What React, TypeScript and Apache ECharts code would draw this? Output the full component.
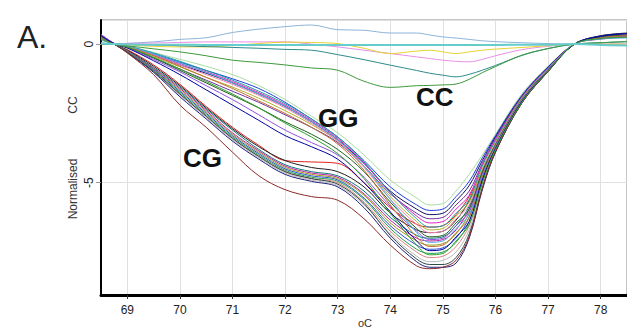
import React, { useEffect, useRef } from "react";
import * as echarts from "echarts";

// temperature (oC) sample points
const TEMPS = [68.5, 68.75, 69, 69.5, 70, 70.5, 71, 71.5, 72, 72.5, 73, 73.5, 74, 74.5, 74.75, 75, 75.25, 75.5, 75.75, 76, 76.5, 77, 77.5, 78, 78.5];

// GG genotype curves
const GG1 = [0.2, 0.0, -0.06, -0.3, -0.55, -0.8, -1.1, -1.5, -2.0, -2.6, -3.2, -4.0, -4.9, -5.55, -5.8, -5.75, -5.3, -4.7, -4.0, -3.25, -1.8, -0.8, 0.0, 0.2, 0.3];
const GG2 = [0.3, 0.02, -0.08, -0.35, -0.65, -0.95, -1.25, -1.6, -2.1, -2.7, -3.35, -4.2, -5.15, -5.8, -6.0, -5.95, -5.5, -4.95, -4.1, -3.3, -1.85, -0.82, 0.0, 0.22, 0.32];
const GG3 = [0.25, 0.0, -0.1, -0.4, -0.75, -1.05, -1.4, -1.8, -2.25, -2.8, -3.45, -4.3, -5.3, -5.95, -6.15, -6.1, -5.65, -5.1, -4.2, -3.35, -1.88, -0.85, 0.0, 0.25, 0.35];
const GG4 = [0.35, 0.03, -0.12, -0.5, -0.9, -1.3, -1.7, -2.1, -2.55, -3.0, -3.55, -4.4, -5.4, -6.1, -6.3, -6.25, -5.8, -5.3, -4.3, -3.4, -1.9, -0.86, 0.0, 0.2, 0.28];
const GG5 = [0.2, 0.0, -0.08, -0.38, -0.7, -1.0, -1.35, -1.75, -2.2, -2.75, -3.4, -4.3, -5.35, -6.2, -6.45, -6.4, -5.95, -5.45, -4.35, -3.45, -1.92, -0.87, 0.0, 0.18, 0.25];
const GG6 = [0.15, 0.0, -0.07, -0.32, -0.62, -0.95, -1.3, -1.7, -2.15, -2.7, -3.35, -4.25, -5.35, -6.3, -6.6, -6.55, -6.1, -5.6, -4.4, -3.5, -1.94, -0.88, 0.0, 0.25, 0.3];
const GG7 = [0.28, 0.02, -0.1, -0.45, -0.82, -1.2, -1.55, -1.95, -2.4, -2.9, -3.5, -4.4, -5.5, -6.4, -6.7, -6.65, -6.2, -5.7, -4.5, -3.55, -1.96, -0.9, 0.0, 0.2, 0.3];
const GG8 = [0.2, 0.0, -0.09, -0.4, -0.75, -1.1, -1.45, -1.85, -2.3, -2.85, -3.5, -4.45, -5.6, -6.5, -6.8, -6.75, -6.3, -5.8, -4.55, -3.6, -1.98, -0.9, 0.0, 0.22, 0.35];
const GG9 = [0.3, 0.02, -0.12, -0.5, -0.95, -1.4, -1.85, -2.3, -2.8, -3.25, -3.8, -4.6, -5.7, -6.65, -6.95, -6.9, -6.45, -5.95, -4.6, -3.62, -2.0, -0.92, 0.0, 0.25, 0.33];
const GG10 = [0.35, 0.03, -0.13, -0.55, -1.0, -1.5, -2.0, -2.55, -3.1, -3.55, -4.0, -4.8, -5.85, -6.75, -7.05, -7.0, -6.55, -6.05, -4.7, -3.66, -2.02, -0.93, 0.0, 0.2, 0.3];
const GG11 = [0.22, 0.0, -0.08, -0.36, -0.68, -1.02, -1.4, -1.8, -2.25, -2.8, -3.45, -4.4, -5.6, -6.8, -7.15, -7.1, -6.65, -6.15, -4.75, -3.7, -2.04, -0.94, 0.0, 0.18, 0.22];
const GG12 = [0.25, 0.01, -0.1, -0.42, -0.8, -1.2, -1.6, -2.05, -2.5, -3.0, -3.6, -4.55, -5.8, -6.95, -7.3, -7.25, -6.8, -6.25, -4.8, -3.72, -2.05, -0.95, 0.0, 0.23, 0.3];
const GG13 = [0.3, 0.02, -0.14, -0.6, -1.1, -1.65, -2.2, -2.75, -3.3, -3.7, -4.15, -5.0, -6.05, -7.1, -7.45, -7.4, -6.95, -6.4, -4.9, -3.76, -2.07, -0.96, 0.0, 0.28, 0.38];
const GG14 = [0.2, 0.0, -0.11, -0.48, -0.9, -1.35, -1.8, -2.3, -2.85, -3.35, -3.95, -4.85, -6.1, -7.25, -7.6, -7.55, -7.1, -6.5, -5.0, -3.8, -2.1, -0.97, 0.0, 0.2, 0.25];

// CG genotype curves
const CG1 = [0.25, 0.0, -0.2, -0.75, -1.45, -2.25, -3.0, -3.65, -4.2, -4.25, -4.3, -5.0, -5.9, -6.5, -6.6, -6.55, -6.15, -5.5, -4.55, -3.62, -2.0, -0.92, 0.0, 0.22, 0.3];
const CG2 = [0.3, 0.0, -0.22, -0.8, -1.5, -2.3, -3.05, -3.7, -4.2, -4.45, -4.6, -5.15, -6.1, -6.7, -6.8, -6.75, -6.35, -5.65, -4.65, -3.66, -2.02, -0.93, 0.0, 0.3, 0.4];
const CG3 = [0.22, 0.0, -0.24, -0.85, -1.55, -2.35, -3.1, -3.8, -4.35, -4.6, -4.75, -5.3, -6.25, -6.9, -7.0, -6.95, -6.55, -5.85, -4.72, -3.7, -2.04, -0.94, 0.0, 0.2, 0.3];
const CG4 = [0.28, 0.0, -0.25, -0.88, -1.6, -2.4, -3.2, -3.85, -4.4, -4.65, -4.8, -5.4, -6.35, -7.0, -7.1, -7.05, -6.7, -5.95, -4.78, -3.72, -2.05, -0.95, 0.0, 0.24, 0.33];
const CG5 = [0.2, 0.0, -0.26, -0.9, -1.65, -2.45, -3.25, -3.9, -4.45, -4.7, -4.85, -5.45, -6.45, -7.1, -7.25, -7.2, -6.85, -6.1, -4.85, -3.75, -2.06, -0.95, 0.0, 0.2, 0.28];
const CG6 = [0.3, 0.0, -0.27, -0.92, -1.7, -2.5, -3.3, -3.95, -4.5, -4.75, -4.9, -5.55, -6.55, -7.25, -7.4, -7.35, -7.0, -6.25, -4.92, -3.78, -2.07, -0.96, 0.0, 0.26, 0.35];
const CG7 = [0.25, 0.0, -0.28, -0.95, -1.75, -2.55, -3.35, -4.0, -4.55, -4.8, -4.95, -5.6, -6.65, -7.4, -7.55, -7.5, -7.15, -6.4, -4.98, -3.8, -2.08, -0.97, 0.0, 0.22, 0.3];
const CG8 = [0.2, 0.0, -0.28, -0.97, -1.8, -2.6, -3.4, -4.05, -4.6, -4.85, -5.0, -5.7, -6.75, -7.5, -7.7, -7.65, -7.3, -6.55, -5.05, -3.82, -2.1, -0.97, 0.0, 0.2, 0.25];
const CG9 = [0.3, 0.0, -0.3, -1.0, -1.85, -2.65, -3.45, -4.1, -4.65, -4.9, -5.1, -5.8, -6.85, -7.65, -7.85, -7.8, -7.5, -6.7, -5.1, -3.85, -2.11, -0.98, 0.0, 0.25, 0.3];
const CG10 = [0.25, 0.0, -0.3, -1.02, -1.9, -2.7, -3.5, -4.15, -4.7, -4.95, -5.15, -5.9, -7.0, -7.85, -8.05, -8.05, -7.9, -7.0, -5.25, -3.9, -2.13, -0.99, 0.0, 0.3, 0.38];
const CG11 = [0.2, 0.0, -0.29, -0.98, -1.8, -2.6, -3.4, -4.05, -4.6, -4.85, -5.05, -5.75, -6.9, -7.75, -7.95, -7.95, -7.7, -6.85, -5.2, -3.88, -2.12, -0.98, 0.0, 0.22, 0.28];
const CG12 = [0.2, 0.0, -0.32, -1.1, -2.2, -3.0, -3.9, -4.75, -5.25, -5.5, -5.63, -6.3, -7.25, -8.0, -8.1, -8.05, -7.8, -6.95, -5.2, -3.88, -2.12, -0.99, 0.0, 0.2, 0.28];

// CC genotype curves
const CC1 = [0.05, 0.0, 0.03, 0.08, 0.17, 0.23, 0.42, 0.54, 0.63, 0.69, 0.52, 0.5, 0.4, 0.4, 0.33, 0.26, 0.22, 0.17, 0.12, 0.09, 0.05, 0.02, 0.0, 0.0, 0.0];
const CC2 = [0.02, 0.0, -0.01, -0.02, -0.02, -0.03, -0.03, -0.03, -0.03, -0.03, -0.03, -0.03, -0.03, -0.03, -0.03, -0.03, -0.03, -0.03, -0.03, -0.03, -0.02, -0.02, 0.0, -0.03, -0.05];
const CC3 = [0.02, 0.0, 0.02, 0.04, 0.06, 0.08, 0.08, 0.08, 0.08, 0.0, -0.1, -0.22, -0.34, -0.46, -0.52, -0.58, -0.62, -0.64, -0.55, -0.42, -0.2, -0.08, 0.0, 0.0, 0.0];
const CC4 = [0.02, 0.0, -0.03, -0.08, -0.1, -0.1, -0.05, 0.02, 0.07, 0.06, 0.02, -0.15, -0.34, -0.25, -0.22, -0.28, -0.34, -0.28, -0.22, -0.18, -0.12, -0.06, 0.0, 0.0, 0.0];
const CC5 = [0.0, 0.0, -0.01, -0.03, -0.06, -0.09, -0.12, -0.15, -0.19, -0.22, -0.38, -0.56, -0.76, -0.95, -1.05, -1.12, -1.18, -1.09, -0.94, -0.77, -0.41, -0.16, 0.0, 0.05, 0.08];
const CC6 = [0.0, 0.0, -0.06, -0.17, -0.28, -0.42, -0.58, -0.66, -0.75, -0.86, -0.94, -1.34, -1.56, -1.5, -1.49, -1.47, -1.44, -1.27, -1.03, -0.81, -0.4, -0.16, 0.0, 0.05, 0.1];

const CG_CURVES = [CG1, CG2, CG3, CG4, CG5, CG6, CG7, CG8, CG9, CG10, CG11, CG12];
const CG_COLORS = ["#e02020", "#202020", "#107878", "#c020a0", "#9a9a20", "#3050d0", "#20a050", "#e08080", "#b8b8b8", "#202080", "#304848", "#8b2a2a"];
const GG_CURVES = [GG1, GG2, GG3, GG4, GG5, GG6, GG7, GG8, GG9, GG10, GG11, GG12, GG13, GG14];
const GG_COLORS = ["#a8dca0", "#2040e0", "#101060", "#7030a0", "#e020c0", "#20a0a0", "#b0b030", "#f080b0", "#206020", "#9050e0", "#50b0e0", "#c07030", "#0000a0", "#30a030"];
const CC_CURVES = [CC1, CC3, CC4, CC5, CC6, CC2];
const CC_COLORS = ["#8cb4d8", "#e890e8", "#e6d230", "#2e8b8b", "#3c9a3c", "#66cccc"];

const X_TICK_LABELS = ["69", "70", "71", "72", "73", "74", "75", "76", "77", "78"];
const Y_TICK_LABELS = ["-5", "0"];

const FONT = "Liberation Sans, Arial, sans-serif";

function line(values: number[], color: string, width = 1) {
  return {
    type: "line",
    data: values.map((v, i) => [TEMPS[i], v]),
    symbol: "none",
    smooth: 0.35,
    lineStyle: { color, width },
    silent: true,
  };
}

export default function App() {
  const ref = useRef<HTMLDivElement>(null);
  useEffect(() => {
    document.body.style.margin = "0";
    const chart = echarts.init(ref.current!, null, { renderer: "svg" });
    const series: any[] = [];
    CG_CURVES.forEach((c, i) => series.push(line(c, CG_COLORS[i])));
    GG_CURVES.forEach((c, i) => series.push(line(c, GG_COLORS[i])));
    CC_CURVES.forEach((c, i) => series.push(line(c, CC_COLORS[i], i === CC_CURVES.length - 1 ? 2 : 1)));

    chart.setOption({
      animation: false,
      backgroundColor: "#ffffff",
      grid: { left: 101, top: 20, width: 527, bottom: 34, show: true, borderColor: "#8a8a8a", borderWidth: 1 },
      xAxis: {
        type: "value",
        min: 68.5,
        max: 78.5,
        splitNumber: 10,
        axisLine: { show: true, onZero: false, lineStyle: { color: "#000", width: 3 } },
        axisTick: { show: true, length: 4, lineStyle: { color: "#333" } },
        axisLabel: {
          showMinLabel: false,
          showMaxLabel: false,
          margin: 9,
          fontSize: 12,
          fontFamily: FONT,
          color: "#222",
          formatter: (v: number) => (X_TICK_LABELS.includes(String(v)) ? String(v) : ""),
        },
        splitLine: { show: true, lineStyle: { color: "#e0e0e0", width: 1 } },
      },
      yAxis: {
        type: "value",
        min: -9.05,
        max: 0.87,
        splitNumber: 2,
        axisLine: { show: true, onZero: false, lineStyle: { color: "#000", width: 2 } },
        axisTick: { show: true, length: 5, lineStyle: { color: "#999" } },
        axisLabel: {
          showMinLabel: false,
          showMaxLabel: false,
          rotate: 90,
          margin: 6,
          fontSize: 12,
          fontFamily: FONT,
          color: "#222",
          formatter: (v: number) => (Y_TICK_LABELS.includes(String(v)) ? String(v) : ""),
        },
        splitLine: { show: true, lineStyle: { color: "#e0e0e0", width: 1 } },
      },
      graphic: [
        { type: "text", left: 17, top: 21, style: { text: "A.", font: `32px ${FONT}`, fill: "#222" } },
        { type: "text", x: 73, y: 189, rotation: Math.PI / 2, style: { text: "Normalised", font: `12px ${FONT}`, fill: "#333", textAlign: "center", textVerticalAlign: "middle" } },
        { type: "text", x: 73, y: 105, rotation: Math.PI / 2, style: { text: "CC", font: `12px ${FONT}`, fill: "#333", textAlign: "center", textVerticalAlign: "middle" } },
        { type: "text", x: 365, y: 317, style: { text: "oC", font: `11px ${FONT}`, fill: "#333", textAlign: "center", textVerticalAlign: "top" } },
        { type: "text", x: 183, y: 158, z: 100, style: { text: "CG", font: `bold 26px ${FONT}`, fill: "#111", textAlign: "left", textVerticalAlign: "middle" } },
        { type: "text", x: 318, y: 118, z: 100, style: { text: "GG", font: `bold 26px ${FONT}`, fill: "#111", textAlign: "left", textVerticalAlign: "middle" } },
        { type: "text", x: 416, y: 97, z: 100, style: { text: "CC", font: `bold 26px ${FONT}`, fill: "#111", textAlign: "left", textVerticalAlign: "middle" } },
      ],
      series,
    });
    return () => chart.dispose();
  }, []);
  return <div ref={ref} style={{ width: 627, height: 329 }} />;
}
